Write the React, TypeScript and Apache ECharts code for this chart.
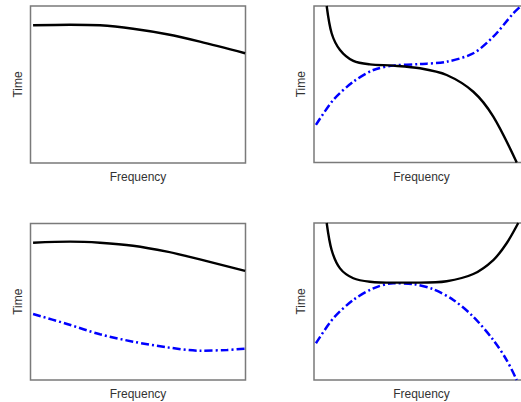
import React, { useEffect, useRef } from "react";
import * as echarts from "echarts";

// Panel 1 (top-left): black solid curve
const p1Black: [number, number][] = [
  [0.012, 0.877], [0.184, 0.881], [0.323, 0.877], [0.477, 0.855],
  [0.635, 0.82], [0.788, 0.773], [0.998, 0.699],
];
// Panel 2 (top-right)
const p2Black: [number, number][] = [
  [0.059, 1.0], [0.082, 0.826], [0.121, 0.719], [0.183, 0.649], [0.26, 0.627],
  [0.369, 0.619], [0.493, 0.602], [0.617, 0.559], [0.741, 0.452], [0.834, 0.293],
  [0.943, 0.0],
];
const p2Blue: [number, number][] = [
  [0.009, 0.24], [0.09, 0.4], [0.183, 0.516], [0.276, 0.591], [0.369, 0.619],
  [0.493, 0.629], [0.617, 0.644], [0.741, 0.698], [0.834, 0.804], [0.927, 0.953],
  [0.963, 1.0],
];
// Panel 3 (bottom-left)
const p3Black: [number, number][] = [
  [0.012, 0.877], [0.184, 0.884], [0.323, 0.877], [0.477, 0.858],
  [0.635, 0.82], [0.788, 0.771], [0.998, 0.697],
];
const p3Blue: [number, number][] = [
  [0.012, 0.422], [0.17, 0.358], [0.323, 0.292], [0.477, 0.245],
  [0.635, 0.209], [0.788, 0.187], [0.914, 0.192], [0.998, 0.2],
];
// Panel 4 (bottom-right)
const p4Black: [number, number][] = [
  [0.059, 1.0], [0.082, 0.828], [0.121, 0.711], [0.183, 0.648], [0.26, 0.626],
  [0.369, 0.62], [0.493, 0.62], [0.617, 0.629], [0.741, 0.675], [0.834, 0.764],
  [0.896, 0.871], [0.95, 1.0],
];
const p4Blue: [number, number][] = [
  [0.009, 0.234], [0.09, 0.393], [0.183, 0.51], [0.276, 0.584], [0.369, 0.616],
  [0.462, 0.611], [0.555, 0.578], [0.648, 0.51], [0.741, 0.403], [0.834, 0.255],
  [0.896, 0.127], [0.943, 0.0],
];

const xName = "Frequency";
const yName = "Time";

export default function App() {
  const ref = useRef<HTMLDivElement>(null);
  useEffect(() => {
    document.body.style.margin = "0";
    const chart = echarts.init(ref.current!, null, { renderer: "svg" });
    const grids = [
      { left: 30.5, top: 6, width: 215, height: 157 },
      { left: 314, top: 6, width: 215, height: 156.5 },
      { left: 30.5, top: 223.5, width: 215, height: 156.5 },
      { left: 314, top: 223, width: 215, height: 157 },
    ].map((g) => ({
      ...g,
      show: true,
      borderColor: "#7a7a7a",
      borderWidth: 1.5,
      backgroundColor: "transparent",
      containLabel: false,
      outerBoundsMode: "none",
    }));
    const nameStyle = {
      fontFamily: "Liberation Sans, Arial, sans-serif",
      fontSize: 12,
      color: "#333",
    };
    const xAxes = grids.map((_, i) => ({
      type: "value" as const,
      gridIndex: i,
      min: 0,
      max: 1,
      name: xName,
      nameLocation: "middle" as const,
      nameGap: 8,
      nameTextStyle: nameStyle,
      axisLine: { show: false },
      axisTick: { show: false },
      axisLabel: { show: false },
      splitLine: { show: false },
    }));
    const yAxes = grids.map((_, i) => ({
      type: "value" as const,
      gridIndex: i,
      min: 0,
      max: 1,
      name: yName,
      nameLocation: "middle" as const,
      nameRotate: 90,
      nameGap: 7,
      nameTextStyle: nameStyle,
      axisLine: { show: false },
      axisTick: { show: false },
      axisLabel: { show: false },
      splitLine: { show: false },
    }));
    const black = (data: [number, number][], idx: number) => ({
      type: "line" as const,
      xAxisIndex: idx,
      yAxisIndex: idx,
      data,
      smooth: 0.3,
      showSymbol: false,
      symbol: "none",
      clip: true,
      lineStyle: { color: "#000", width: 2.4 },
    });
    const blue = (data: [number, number][], idx: number) => ({
      type: "line" as const,
      xAxisIndex: idx,
      yAxisIndex: idx,
      data,
      smooth: 0.3,
      showSymbol: false,
      symbol: "none",
      clip: true,
      lineStyle: { color: "#0000ff", width: 2.5, type: [8, 3, 2, 3] },
    });
    chart.setOption({
      animation: false,
      backgroundColor: "#fff",
      grid: grids,
      xAxis: xAxes,
      yAxis: yAxes,
      series: [
        black(p1Black, 0),
        blue(p2Blue, 1),
        black(p2Black, 1),
        blue(p3Blue, 2),
        black(p3Black, 2),
        blue(p4Blue, 3),
        black(p4Black, 3),
      ],
    });
    return () => chart.dispose();
  }, []);
  return <div ref={ref} style={{ width: 521, height: 402 }} />;
}
